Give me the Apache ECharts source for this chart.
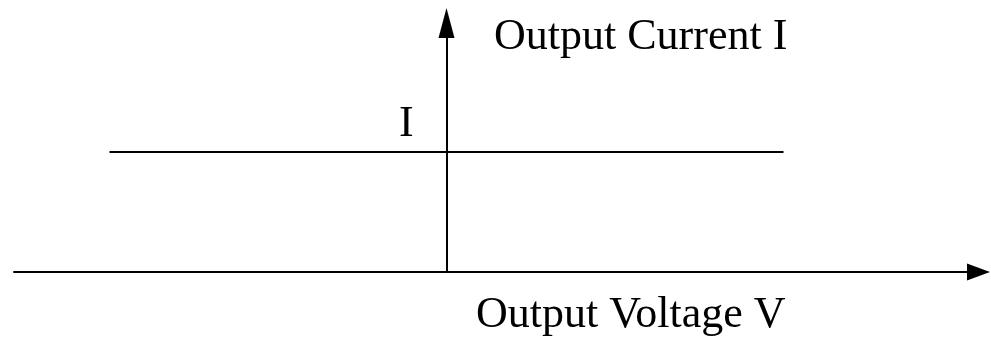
<!DOCTYPE html>
<html>
<head>
<meta charset="utf-8">
<script src="https://cdn.jsdelivr.net/npm/echarts@6/dist/echarts.min.js"></script>
<style>
  html, body { margin: 0; padding: 0; background: #fff; }
</style>
</head>
<body>
<div id="chart" style="width: 991px; height: 341px"></div>
<script>
// constant current output: I stays the same for any voltage
const voltage = [-3.37, 3.37];
const current = [1.2, 1.2];
const xRange = [-4.325, 5.32];
const yRange = [0, 2.49];

const labelFont = "Liberation Serif";

const options = {
  animation: false,
  grid: { left: 14, right: 12.5, top: 23, bottom: 69 },
  xAxis: {
    type: "value",
    min: xRange[0],
    max: xRange[1],
    axisLine: {
      onZero: true,
      symbol: ["none", "triangle"],
      symbolSize: [17, 23],
      lineStyle: { color: "#000", width: 2 },
    },
    axisTick: { show: false },
    axisLabel: { show: false },
    splitLine: { show: false },
  },
  yAxis: {
    type: "value",
    min: yRange[0],
    max: yRange[1],
    axisLine: {
      show: true,
      onZero: true,
      symbol: ["none", "triangle"],
      symbolSize: [16, 30],
      lineStyle: { color: "#000", width: 2 },
    },
    axisTick: { show: false },
    axisLabel: { show: false },
    splitLine: { show: false },
  },
  series: [
    {
      type: "line",
      data: voltage.map((v, i) => [v, current[i]]),
      showSymbol: false,
      lineStyle: { color: "#000", width: 2 },
    },
  ],
  graphic: [
    {
      type: "text",
      left: 494,
      top: 15,
      style: { text: "Output Current I", font: "44px " + labelFont, fill: "#000" },
    },
    {
      type: "text",
      left: 476,
      top: 293,
      style: { text: "Output Voltage V", font: "44px " + labelFont, fill: "#000" },
    },
    {
      type: "text",
      left: 399,
      top: 102,
      style: { text: "I", font: "44px " + labelFont, fill: "#000" },
    },
  ],
};

const myChart = echarts.init(document.getElementById("chart"));
myChart.setOption(options);
</script>
</body>
</html>
